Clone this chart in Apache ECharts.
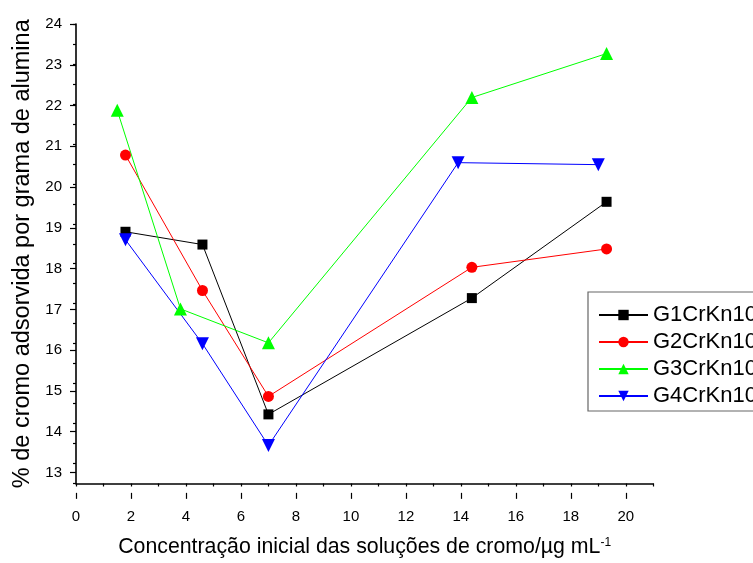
<!DOCTYPE html>
<html>
<head>
<meta charset="utf-8">
<script src="https://cdn.jsdelivr.net/npm/echarts@6/dist/echarts.min.js"></script>
<style>
html,body{margin:0;padding:0;background:#fff;}
#chart{width:753px;height:563px;}
</style>
</head>
<body>
<div id="chart"></div>
<script>
// ---- data ----
const seriesNames = ['G1CrKn10', 'G2CrKn10', 'G3CrKn10', 'G4CrKn10'];
const g1X = [1.8, 4.6, 7.0, 14.4, 19.3];
const g1Y = [18.8, 18.48, 14.23, 17.14, 19.55];
const g2X = [1.8, 4.6, 7.0, 14.4, 19.3];
const g2Y = [20.72, 17.33, 14.68, 17.91, 18.37];
const g3X = [1.5, 3.8, 7.0, 14.4, 19.3];
const g3Y = [21.84, 16.87, 16.02, 22.16, 23.26];
const g4X = [1.8, 4.6, 7.0, 13.9, 19.0];
const g4Y = [18.6, 16.0, 13.45, 20.53, 20.48];
const xTicks = [0, 2, 4, 6, 8, 10, 12, 14, 16, 18, 20];
const yTicks = [13, 14, 15, 16, 17, 18, 19, 20, 21, 22, 23, 24];

const xTitle = 'Concentração inicial das soluções de cromo/µg mL';
const xTitleSup = '-1';
const yTitle = '% de cromo adsorvida por grama de alumina';

// ---- layout ----
const L = 76, T = 24;
const pxX = 27.49, pxY = 40.77;
const xMin = 0, xMax = 21, yMin = 12.5, yMax = 24;
const font = 'Liberation Sans, Arial, Helvetica, sans-serif';

const pair = (xs, ys) => xs.map((x, i) => [x, ys[i]]);

const chart = echarts.init(document.getElementById('chart'), null, {renderer: 'canvas'});
const axisColor = '#000';

const option = {
  backgroundColor: '#fff',
  animation: false,
  textStyle: {fontFamily: font},
  grid: [
    {left: L, top: T, width: (xMax - xMin) * pxX, height: (yMax - yMin) * pxY},
    {left: L, top: T, width: (xTicks[xTicks.length-1] - xTicks[0]) * pxX, height: (yTicks[yTicks.length-1] - yTicks[0]) * pxY}
  ],
  xAxis: [
    {
      type: 'value', gridIndex: 0, min: xMin, max: xMax, interval: 1,
      axisLine: {show: true, lineStyle: {color: axisColor, width: 1.6}},
      axisTick: {show: true, length: 3, lineStyle: {color: axisColor, width: 1.2}},
      axisLabel: {show: false},
      splitLine: {show: false},
      name: '{a|' + xTitle + '}{s|' + xTitleSup + '}',
      nameLocation: 'middle', nameGap: 53,
      nameTextStyle: {
        rich: {
          a: {fontSize: 21.3, fontFamily: font, color: '#000'},
          s: {fontSize: 12, fontFamily: font, color: '#000', verticalAlign: 'top', padding: [0, 0, 10, 0]}
        }
      }
    },
    {
      type: 'value', gridIndex: 1, min: xTicks[0], max: xTicks[xTicks.length-1], interval: 2,
      offset: (13 - yMin) * pxY,
      axisLine: {show: false},
      axisTick: {show: true, length: 6, lineStyle: {color: axisColor, width: 1.2}},
      axisLabel: {show: true, fontSize: 15, color: '#000', margin: 17, fontFamily: font},
      splitLine: {show: false}
    }
  ],
  yAxis: [
    {
      type: 'value', gridIndex: 0, min: yMin, max: yMax, interval: 0.5,
      axisLine: {show: true, lineStyle: {color: axisColor, width: 1.6}},
      axisTick: {show: true, length: 3, lineStyle: {color: axisColor, width: 1.2}},
      axisLabel: {show: false},
      splitLine: {show: false},
      name: yTitle, nameLocation: 'middle', nameGap: 41,
      nameTextStyle: {fontSize: 23.5, color: '#000', fontFamily: font}
    },
    {
      type: 'value', gridIndex: 1, min: yTicks[0], max: yTicks[yTicks.length-1], interval: 1,
      axisLine: {show: false},
      axisTick: {show: true, length: 6, lineStyle: {color: axisColor, width: 1.2}},
      axisLabel: {show: true, fontSize: 15, color: '#000', margin: 14, fontFamily: font},
      splitLine: {show: false}
    }
  ],
  legend: {
    orient: 'vertical', left: 588, top: 292,
    data: seriesNames,
    itemWidth: 49, itemHeight: 13, itemGap: 5,
    padding: [12, 12, 4, 10],
    borderColor: '#666', borderWidth: 1.2,
    textStyle: {fontSize: 22, color: '#000', fontFamily: font}
  },
  series: [
    {name: seriesNames[0], type: 'line', xAxisIndex: 0, yAxisIndex: 0, data: pair(g1X, g1Y),
     symbol: 'rect', symbolSize: 10, color: '#000', lineStyle: {width: 1, color: '#000'}, itemStyle: {color: '#000'}},
    {name: seriesNames[1], type: 'line', xAxisIndex: 0, yAxisIndex: 0, data: pair(g2X, g2Y),
     symbol: 'circle', symbolSize: 11, color: '#ff0000', lineStyle: {width: 1, color: '#ff0000'}, itemStyle: {color: '#ff0000'}},
    {name: seriesNames[2], type: 'line', xAxisIndex: 0, yAxisIndex: 0, data: pair(g3X, g3Y),
     symbol: 'triangle', symbolSize: 13, color: '#00ff00', lineStyle: {width: 1, color: '#00ff00'}, itemStyle: {color: '#00ff00'}},
    {name: seriesNames[3], type: 'line', xAxisIndex: 0, yAxisIndex: 0, data: pair(g4X, g4Y),
     symbol: 'triangle', symbolRotate: 180, symbolSize: 13, color: '#0000ff', lineStyle: {width: 1, color: '#0000ff'}, itemStyle: {color: '#0000ff'}}
  ]
};
chart.setOption(option);
</script>
</body>
</html>
